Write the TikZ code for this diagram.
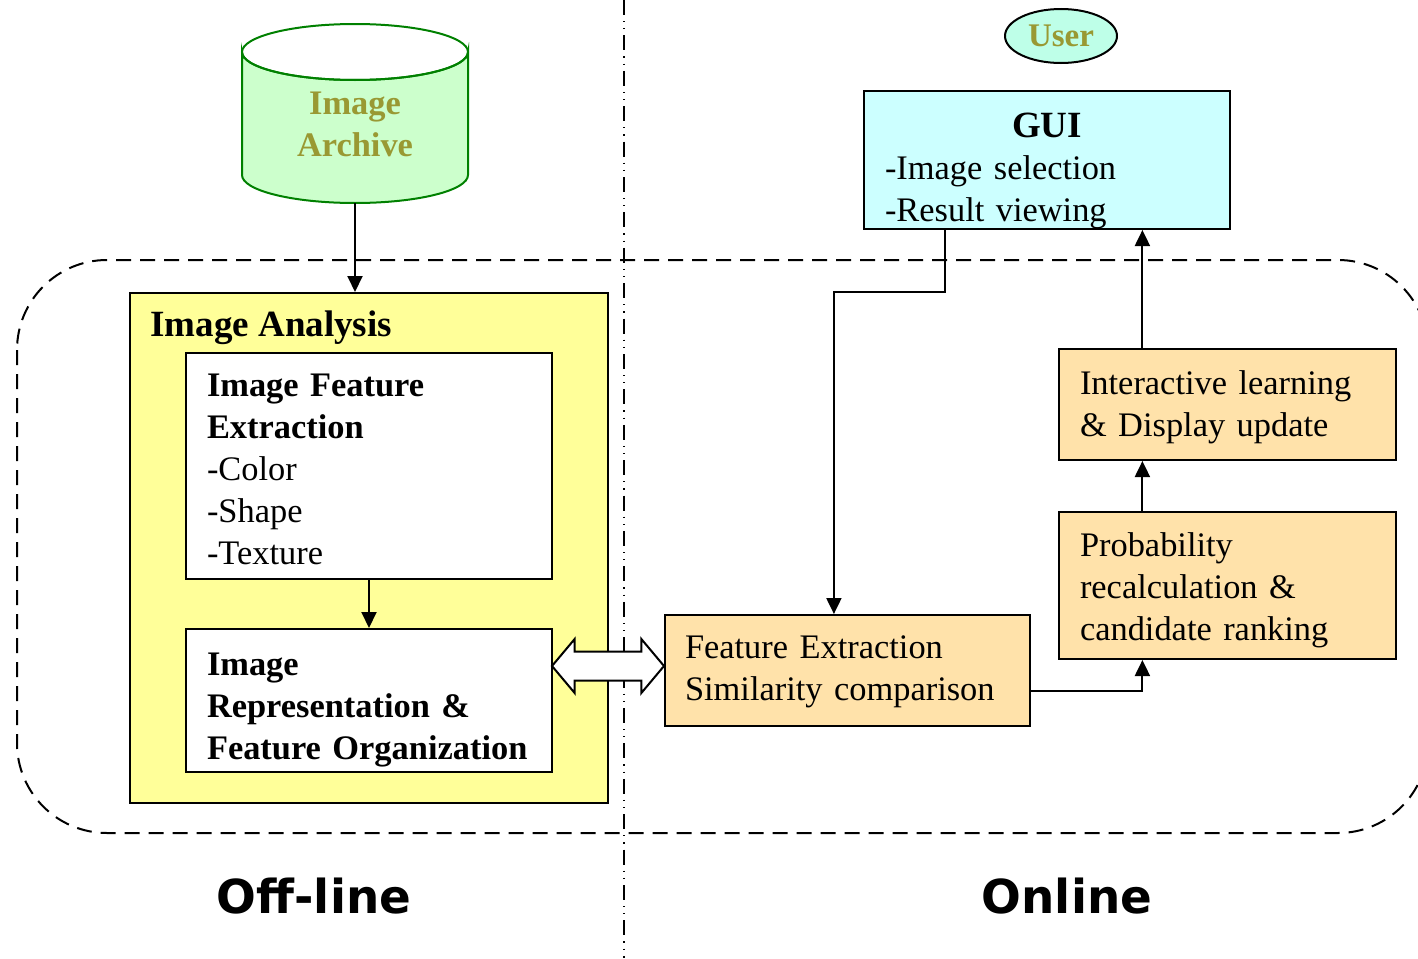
\documentclass[tikz,border=0pt]{standalone}
\usepackage{fontspec}
\setmainfont{Liberation Serif}
\newfontfamily\labelfont{DejaVu Sans}
\definecolor{ArchiveGreen}{RGB}{204,255,204}
\definecolor{ArchiveEdge}{RGB}{0,128,0}
\definecolor{OliveText}{RGB}{153,153,51}
\definecolor{AnalysisYellow}{RGB}{255,255,153}
\definecolor{OnlineTan}{RGB}{255,226,170}
\definecolor{GuiCyan}{RGB}{204,255,255}
\definecolor{UserMint}{RGB}{190,255,232}
\usepackage{tikz}
\usetikzlibrary{arrows, arrows.meta, shapes, shapes.geometric, shapes.arrows,
	positioning, calc}
\newcommand{\bajar}[1]{\rule{0pt}{#1}}

\begin{document}
\begin{tikzpicture}[x=0.5pt, y=-0.5pt, font=\fontsize{17.2}{21}\selectfont,
	caja/.style={draw, line width=1pt, inner xsep=10.5pt, inner ysep=0pt, align=left},
	flecha/.style={-{Triangle[length=8pt, width=7.5pt]}, line width=1pt},
	titulo/.style={font=\fontsize{18.5}{21}\selectfont\bfseries}]
	\clip (0,0) rectangle (1418,958);

	% zonas: contorno discontinuo y divisoria
	\draw[dash pattern=on 7.5pt off 4.5pt, line width=1pt, rounded corners=45pt] (17,260) rectangle (1428,833);
	\draw[line width=0.9pt, dash pattern=on 7.5pt off 3pt on 0.6pt off 3pt on 0.6pt off 3pt] (624,0) -- (624,958);

	% parte off-line: archivo de imagenes
	\filldraw[ArchiveEdge, fill=ArchiveGreen, line width=1pt] (242,52) -- (242,175)
		arc[start angle=180, end angle=0, x radius=113, y radius=28] -- (468,52)
		arc[start angle=0, end angle=180, x radius=113, y radius=28] -- cycle;
	\draw[ArchiveEdge, line width=1pt] (355,52) ellipse[x radius=113, y radius=28];
	\node[text=OliveText, align=center, font=\fontsize{17.2}{21}\selectfont\bfseries] (archive) at (355,124) {Image\\Archive};
	\coordinate (archivebase) at (355,203);

	\node[draw, line width=1pt, fill=AnalysisYellow, minimum width=239pt, minimum height=255pt] (analysis) at (369,548) {};
	\node[titulo, anchor=west, inner sep=0pt] (analysistitle) at (150,328) {Image Analysis};
	\node[caja, fill=white, text width=162pt, minimum height=113pt] (featext) at (369,466)
		{\bajar{14.9pt}\textbf{Image Feature}\\\textbf{Extraction}\\-Color\\-Shape\\-Texture};
	\node[caja, fill=white, text width=162pt, minimum height=71.5pt] (imgrep) at (369,700.5)
		{\bajar{20.4pt}\textbf{Image}\\\textbf{Representation \&}\\\textbf{Feature Organization}};
	\draw[flecha] (archivebase) -- (archivebase |- analysis.north);
	\draw[flecha] (featext.south) -- (imgrep.north);

	% parte online
	\node[caja, fill=OnlineTan, text width=162.5pt, inner xsep=10pt, minimum height=55.5pt] (fe) at (847.5,670.5)
		{\bajar{13pt}Feature Extraction\\Similarity comparison};
	\node[caja, fill=OnlineTan, text width=147.5pt, minimum height=73.5pt] (prob) at (1227.5,585.5)
		{\bajar{16.8pt}Probability\\recalculation \&\\candidate ranking};
	\node[caja, fill=OnlineTan, text width=147.5pt, minimum height=55.5pt] (inter) at (1227.5,404.5)
		{\bajar{14.5pt}Interactive learning\\\& Display update};
	\node[caja, fill=GuiCyan, text width=162pt, minimum height=69pt] (gui) at (1047,160)
		{\bajar{23.2pt}\makebox[\linewidth][c]{\fontsize{18.5}{21}\selectfont\bfseries GUI}\\-Image selection\\-Result viewing};
	\node[ellipse, draw, line width=1pt, fill=UserMint, text=OliveText, minimum width=56pt, minimum height=27pt,
		inner sep=0pt, font=\fontsize{16.5}{20}\selectfont\bfseries] (user) at (1061,36) {User};

	% conexiones
	\node[double arrow, draw, line width=1pt, fill=white, inner xsep=0pt, inner ysep=6.75pt, minimum width=26pt,
		minimum height=56pt, double arrow head extend=6.25pt, double arrow tip angle=100] (link) at (608,666) {};
	\coordinate (guiout) at ($(gui.south west)!0.224!(gui.south east)$);
	\coordinate (fein) at ($(fe.north west)!0.463!(fe.north east)$);
	\draw[flecha] (guiout) -- (guiout |- analysis.north) -| (fein);
	\coordinate (feout) at ($(fe.north east)!0.685!(fe.south east)$);
	\coordinate (probin) at ($(prob.south west)!0.249!(prob.south east)$);
	\draw[flecha] (feout) -| (probin);
	\draw[flecha] (probin |- prob.north) -- (probin |- inter.south);
	\draw[flecha] (probin |- inter.north) -- (probin |- gui.south);

	% rótulos inferiores
	\node[anchor=base, font=\labelfont\bfseries\fontsize{23.4}{28}\selectfont] (offline) at (314,913) {Off-line};
	\node[anchor=base, font=\labelfont\bfseries\fontsize{23.4}{28}\selectfont] (online) at (1067,913) {Online};
\end{tikzpicture}
\end{document}
